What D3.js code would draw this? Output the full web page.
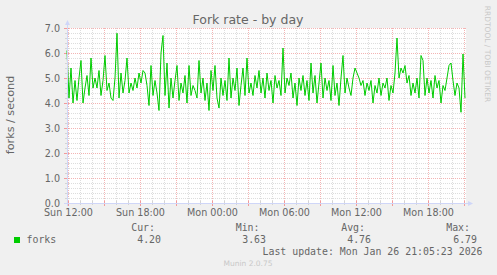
<!DOCTYPE html>
<html><head><meta charset="utf-8">
<script src="https://cdn.jsdelivr.net/npm/d3@7"></script>
<style>
html,body{margin:0;padding:0;background:#F0F0F0;}
svg{display:block;}
</style></head>
<body>
<script>
// ---- data ----
const title = "Fork rate - by day";
const yLabel = "forks / second";
const seriesName = "forks";
const startTime = new Date(2026, 0, 25, 11, 55, 0);
const endTime = new Date(2026, 0, 26, 21, 5, 23);
const stepMinutes = 10;
const values = [
 6.1,4.2,5.4,4.0,4.9,4.1,5.0,5.7,4.0,4.6,
 5.1,4.3,5.8,4.6,5.0,4.6,5.3,4.3,4.9,5.9,
 4.5,4.8,4.2,4.1,5.0,6.79,4.2,5.2,4.4,4.9,
 5.8,4.4,4.8,4.5,5.0,4.6,5.2,4.8,5.3,5.2,
 4.7,3.9,5.5,4.3,4.9,4.4,3.7,6.0,6.7,4.3,
 5.6,3.8,5.0,4.2,4.9,5.5,4.1,4.8,4.4,5.1,
 4.0,5.5,4.3,4.7,4.5,4.2,5.7,4.4,5.0,4.1,
 4.8,3.7,5.3,4.5,5.5,4.2,3.8,5.0,4.3,4.9,
 4.1,5.8,4.2,5.0,4.5,5.4,3.9,4.7,5.4,4.3,
 5.8,4.4,4.8,4.3,5.1,4.6,5.3,4.4,5.0,4.2,
 5.2,4.5,4.9,4.0,5.1,4.6,4.9,4.3,6.2,4.4,
 5.0,4.7,5.2,4.2,4.8,3.9,5.0,4.5,5.1,4.3,
 4.9,4.1,5.6,4.4,5.1,4.0,4.8,5.6,4.2,5.0,
 4.5,4.9,4.1,5.5,4.3,4.8,3.9,5.0,5.9,4.4,
 5.0,4.6,4.3,5.0,5.4,5.2,5.0,4.7,4.9,4.3,
 4.8,4.5,4.9,4.0,4.7,4.4,5.0,4.3,4.8,4.6,
 5.0,4.1,4.7,4.4,5.2,6.6,5.0,5.4,5.2,5.5,
 4.8,5.1,4.3,4.8,4.4,5.0,4.2,5.9,5.7,4.3,
 5.0,4.4,4.9,4.2,5.1,4.6,4.9,4.0,4.7,4.5,
 5.0,5.5,5.6,4.9,4.3,4.8,4.6,3.63,5.96,4.2
];
const yTickValues = [0,1,2,3,4,5,6,7];
const statLabels = ["Cur:","Min:","Avg:","Max:"];
const statValues = ["4.20","3.63","4.76","6.79"];
const lastUpdate = "Last update: Mon Jan 26 21:05:23 2026";
const watermark = "RRDTOOL / TOBI OETIKER";
const version = "Munin 2.0.75";

const points = values.map((v,i)=>({t:new Date(startTime.getTime()+i*stepMinutes*60000), v}));

// ---- layout ----
const W = 497, H = 275;
const pL = 67, pT = 28, pB = 203;
const pxPerHour = 12;
const pR = pL + (endTime - startTime)/3600000*pxPerHour;

const svg = d3.select("body").append("svg").attr("width",W).attr("height",H);
svg.append("rect").attr("width",W).attr("height",H).attr("fill","#F0F0F0");

const x = d3.scaleTime().domain([startTime,endTime]).range([pL,pR]);
const y = d3.scaleLinear().domain([0,7]).range([pB,pT]);

svg.append("rect").attr("x",pL).attr("y",pT).attr("width",pR-pL+1).attr("height",pB-pT)
  .attr("fill","#FFFFFF");

const font = "DejaVu Sans, sans-serif";
const mono = "DejaVu Sans Mono, monospace";
const fontCol = "#666666";
const gridCol = "#DDDDDD";
const mgridCol = "#F3B4B4";

const grid = svg.append("g").attr("shape-rendering","crispEdges");
const hourTicks = d3.timeHour.every(1).range(startTime,endTime);
hourTicks.forEach(t=>{
  const px = Math.round(x(t))+0.5;
  const major = t.getHours()%3===0;
  grid.append("line").attr("x1",px).attr("x2",px).attr("y1",pT).attr("y2",pB)
    .attr("stroke", major?mgridCol:gridCol).attr("stroke-dasharray","1,1");
  grid.append("line").attr("x1",px).attr("x2",px).attr("y1",pB-2).attr("y2",pB+(major?3:2))
    .attr("stroke", major?"#F29A9A":"#D4D4D4");
});
d3.range(0,7.001,0.2).forEach(v=>{
  const py = Math.round(y(v))+0.5;
  const major = Math.abs(v-Math.round(v))<1e-6;
  grid.append("line").attr("x1",pL).attr("x2",pR+1).attr("y1",py).attr("y2",py)
    .attr("stroke", major?mgridCol:gridCol).attr("stroke-dasharray","1,1");
  grid.append("line").attr("x1",pL-(major?3:2)).attr("x2",pL+2).attr("y1",py).attr("y2",py)
    .attr("stroke", major?"#F29A9A":"#D4D4D4");
});

// data line
const line = d3.line().x(d=>x(d.t)).y(d=>y(d.v));
svg.append("path").datum(points).attr("d",line).attr("fill","none")
  .attr("stroke","#00CC00").attr("stroke-width",1);

// axes
const axisCol = "#CFD6F8";
const ax = svg.append("g");
ax.append("line").attr("x1",pL-3).attr("x2",pR+4).attr("y1",pB+0.5).attr("y2",pB+0.5)
  .attr("stroke",axisCol).attr("shape-rendering","crispEdges");
ax.append("line").attr("x1",pL+0.5).attr("x2",pL+0.5).attr("y1",pB+3).attr("y2",pT-4)
  .attr("stroke",axisCol).attr("shape-rendering","crispEdges");
ax.append("path").attr("d",`M${pR+3},${pB-2} L${pR+8},${pB+0.5} L${pR+3},${pB+3} Z`).attr("fill",axisCol);
ax.append("path").attr("d",`M${pL-2},${pT-3} L${pL+0.5},${pT-8} L${pL+3},${pT-3} Z`).attr("fill",axisCol);

// x tick labels
const fmt = d3.timeFormat("%a %H:%M");
const labelTicks = d3.timeHour.every(6).range(startTime,endTime);
svg.append("g").selectAll("text").data(labelTicks).join("text")
  .attr("x",d=>x(d)+0.5).attr("y",216).attr("text-anchor","middle")
  .attr("font-family",font).attr("font-size",9.6).attr("fill",fontCol).text(d=>fmt(d));
svg.append("g").selectAll("text").data(yTickValues).join("text")
  .attr("x",60).attr("y",d=>y(d)+3.5).attr("text-anchor","end")
  .attr("font-family",font).attr("font-size",9.6).attr("fill",fontCol).text(d=>d.toFixed(1));

svg.append("text").attr("x",248).attr("y",24).attr("text-anchor","middle")
  .attr("font-family",font).attr("font-size",12.5).attr("fill",fontCol).text(title);
svg.append("text").attr("transform","translate(14,115) rotate(-90)").attr("text-anchor","middle")
  .attr("font-family",font).attr("font-size",11.2).attr("fill",fontCol).text(yLabel);
svg.append("text").attr("transform","translate(485,54) rotate(90)").attr("text-anchor","middle")
  .attr("font-family",font).attr("font-size",7.5).attr("fill","#C8C8C8").text(watermark);

// legend
svg.append("rect").attr("x",14).attr("y",237).attr("width",6).attr("height",6).attr("fill","#00CC00");
svg.append("text").attr("x",26.5).attr("y",243).attr("font-family",mono).attr("font-size",9.9)
  .attr("fill",fontCol).text(seriesName);
const labelRight = [155,259.5,365,470];
const valueRight = [161,266,371,477];
statLabels.forEach((s,i)=>{
  svg.append("text").attr("x",labelRight[i]).attr("y",231).attr("text-anchor","end")
    .attr("font-family",mono).attr("font-size",9.9).attr("fill",fontCol).text(s);
  svg.append("text").attr("x",valueRight[i]).attr("y",243).attr("text-anchor","end")
    .attr("font-family",mono).attr("font-size",9.9).attr("fill",fontCol).text(statValues[i]);
});
svg.append("text").attr("x",482.5).attr("y",255).attr("text-anchor","end")
  .attr("font-family",mono).attr("font-size",9.9).attr("fill",fontCol).text(lastUpdate);
svg.append("text").attr("x",248).attr("y",266).attr("text-anchor","middle")
  .attr("font-family",font).attr("font-size",7.5).attr("fill","#C8C8C8").text(version);
</script>
</body></html>
